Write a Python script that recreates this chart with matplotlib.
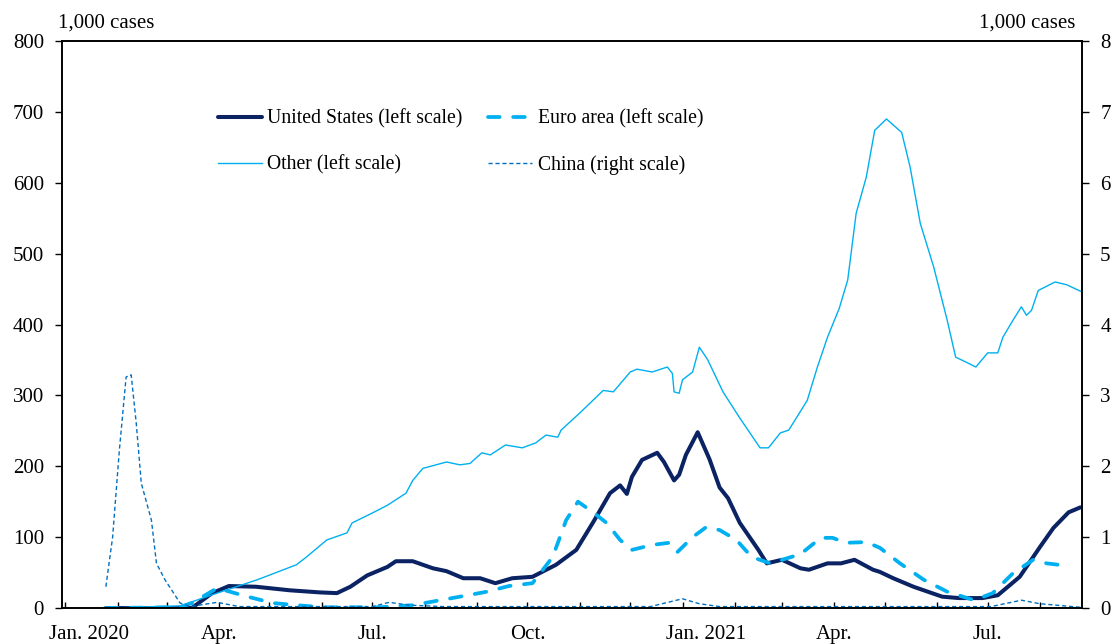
import numpy as np
import pandas as pd
import matplotlib
matplotlib.use("Agg")
import matplotlib.pyplot as plt
import matplotlib.dates as mdates

plt.rcParams['font.family'] = ['Liberation Serif', 'DejaVu Serif']

# New COVID-19 cases, 1,000 cases (7-day average)
us_dates = ['2020-01-25', '2020-03-16', '2020-03-28', '2020-04-07', '2020-04-23', '2020-05-13',
            '2020-05-31', '2020-06-10', '2020-06-18', '2020-06-28', '2020-07-10', '2020-07-15',
            '2020-07-25', '2020-08-06', '2020-08-14', '2020-08-24', '2020-09-03', '2020-09-12',
            '2020-09-22', '2020-10-04', '2020-10-18', '2020-10-30', '2020-11-09', '2020-11-19',
            '2020-11-25', '2020-11-29', '2020-12-02', '2020-12-08', '2020-12-17', '2020-12-21',
            '2020-12-27', '2020-12-30', '2021-01-03', '2021-01-10', '2021-01-17', '2021-01-23',
            '2021-01-28', '2021-02-04', '2021-02-15', '2021-02-20', '2021-03-01', '2021-03-12',
            '2021-03-17', '2021-03-28', '2021-04-05', '2021-04-13', '2021-04-24', '2021-04-28',
            '2021-05-06', '2021-05-18', '2021-06-04', '2021-06-14', '2021-06-28', '2021-07-07',
            '2021-07-20', '2021-08-01', '2021-08-09', '2021-08-18', '2021-08-25']
us_vals = [0, 0, 21, 31, 30, 25,
           22, 21, 30, 46, 58, 66,
           66, 56, 52, 42, 42, 35,
           42, 44, 61, 82, 121, 162,
           173, 161, 185, 209, 219, 206,
           180, 188, 216, 248, 210, 170,
           155, 120, 82, 63, 68, 56,
           54, 63, 63, 68, 54, 51,
           42, 30, 16, 14, 14, 18,
           44, 86, 113, 135, 142]

euro_dates = ['2020-01-25', '2020-03-09', '2020-03-16', '2020-03-31', '2020-04-18', '2020-05-03',
              '2020-05-17', '2020-06-02', '2020-07-05', '2020-07-25', '2020-08-22', '2020-09-07',
              '2020-09-20', '2020-10-04', '2020-10-16', '2020-10-24', '2020-10-31', '2020-11-09',
              '2020-11-17', '2020-11-25', '2020-12-02', '2020-12-14', '2020-12-24', '2020-12-29',
              '2021-01-07', '2021-01-15', '2021-01-23', '2021-02-02', '2021-02-11', '2021-02-22',
              '2021-03-01', '2021-03-12', '2021-03-24', '2021-03-31', '2021-04-08', '2021-04-20',
              '2021-04-28', '2021-05-10', '2021-05-24', '2021-06-07', '2021-06-23', '2021-07-04',
              '2021-07-16', '2021-07-28', '2021-08-05', '2021-08-19']
euro_vals = [0, 1, 7, 28, 16, 7,
             4, 1, 1, 4, 16, 23,
             31, 35, 72, 124, 150, 135,
             120, 96, 82, 89, 92, 79,
             100, 114, 110, 96, 72, 63,
             68, 76, 99, 99, 92, 93,
             85, 63, 40, 23, 11, 21,
             49, 68, 63, 59]

other_dates = ['2020-01-25', '2020-03-09', '2020-03-31', '2020-04-24', '2020-05-17', '2020-05-23',
               '2020-06-04', '2020-06-16', '2020-06-19', '2020-07-01', '2020-07-10', '2020-07-21',
               '2020-07-25', '2020-07-31', '2020-08-14', '2020-08-22', '2020-08-28', '2020-09-04',
               '2020-09-09', '2020-09-18', '2020-09-28', '2020-10-06', '2020-10-12', '2020-10-19',
               '2020-10-21', '2020-11-01', '2020-11-15', '2020-11-21', '2020-12-01', '2020-12-05',
               '2020-12-14', '2020-12-23', '2020-12-26', '2020-12-27', '2020-12-30', '2021-01-01',
               '2021-01-07', '2021-01-11', '2021-01-16', '2021-01-25', '2021-02-04', '2021-02-16',
               '2021-02-21', '2021-02-28', '2021-03-05', '2021-03-10', '2021-03-16', '2021-03-22',
               '2021-03-28', '2021-04-04', '2021-04-09', '2021-04-14', '2021-04-20', '2021-04-25',
               '2021-05-02', '2021-05-11', '2021-05-16', '2021-05-22', '2021-05-30', '2021-06-07',
               '2021-06-12', '2021-06-19', '2021-06-24', '2021-07-01', '2021-07-07', '2021-07-10',
               '2021-07-16', '2021-07-21', '2021-07-24', '2021-07-27', '2021-07-31', '2021-08-10',
               '2021-08-17', '2021-08-25']
other_vals = [0, 3, 21, 40, 61, 72,
              96, 106, 120, 134, 145, 162,
              180, 197, 206, 202, 204, 219,
              216, 230, 226, 233, 244, 241,
              251, 275, 307, 305, 333, 337,
              333, 340, 331, 305, 303, 322,
              333, 368, 350, 305, 268, 226,
              226, 247, 251, 270, 293, 340,
              382, 423, 463, 557, 608, 674,
              690, 671, 622, 543, 481, 406,
              354, 346, 340, 360, 360, 382,
              406, 425, 413, 420, 448, 460,
              456, 447]

china_dates = ['2020-01-25', '2020-01-29', '2020-02-02', '2020-02-06', '2020-02-09', '2020-02-12',
               '2020-02-15', '2020-02-21', '2020-02-24', '2020-02-29', '2020-03-09', '2020-03-15',
               '2020-03-31', '2020-04-13', '2020-07-01', '2020-07-11', '2020-07-23', '2020-08-12',
               '2020-12-13', '2021-01-01', '2021-01-11', '2021-01-23', '2021-07-03', '2021-07-21',
               '2021-08-01', '2021-08-25']
china_vals = [0.30, 1.0, 2.23, 3.26, 3.29, 2.61,
              1.76, 1.24, 0.63, 0.40, 0.07, 0.02,
              0.08, 0.02, 0.02, 0.08, 0.04, 0.02,
              0.02, 0.13, 0.06, 0.02, 0.02, 0.11,
              0.06, 0.01]

x_labels = ['Jan. 2020', 'Apr.', 'Jul.', 'Oct.', 'Jan. 2021', 'Apr.', 'Jul.']
x_label_dates = ['2020-01-15', '2020-04-01', '2020-07-01', '2020-10-01',
                 '2021-01-15', '2021-04-01', '2021-07-01']

fig = plt.figure(figsize=(11.12, 6.44), dpi=100)
ax = fig.add_axes([0.0558, 0.0559, 0.9173, 0.8804])
ax2 = ax.twinx()

navy = '#0B2363'
sky = '#00B0F0'
blue = '#0070C0'

l1, = ax.plot(pd.to_datetime(us_dates), us_vals, color=navy, lw=2.9,
              solid_capstyle='round', solid_joinstyle='round',
              label='United States (left scale)')
l2, = ax.plot(pd.to_datetime(euro_dates), euro_vals, color=sky, lw=2.7,
              dashes=(3.1, 3.6), dash_capstyle='round', label='Euro area (left scale)')
l3, = ax.plot(pd.to_datetime(other_dates), other_vals, color=sky, lw=1.0,
              label='Other (left scale)')
l4, = ax2.plot(pd.to_datetime(china_dates), china_vals, color=blue, lw=1.0,
               dashes=(3, 2), label='China (right scale)')

ax.set_xlim(pd.Timestamp('2019-12-30'), pd.Timestamp('2021-08-26'))
ax.set_ylim(0, 800)
ax2.set_ylim(0, 8)
ax.set_yticks(np.arange(0, 801, 100))
ax2.set_yticks(np.arange(0, 9, 1))

ax.xaxis.remove_overlapping_locs = False
ax.xaxis.set_major_locator(mdates.MonthLocator())
ax.xaxis.set_major_formatter(plt.NullFormatter())
ax.set_xticks(pd.to_datetime(x_label_dates), minor=True)
ax.set_xticklabels(x_labels, minor=True)
ax.tick_params(axis='x', which='major', direction='in', length=4, width=1)
ax.tick_params(axis='x', which='minor', length=0, pad=12, labelsize=15)
ax.tick_params(axis='y', direction='out', length=5, width=1, pad=8, labelsize=15)
ax2.tick_params(axis='y', direction='out', length=5, width=1, pad=8, labelsize=15)

for a in (ax, ax2):
    for s in a.spines.values():
        s.set_linewidth(1.2)

fig.text(0.052, 0.958, '1,000 cases', fontsize=15, ha='left', va='baseline')
fig.text(0.967, 0.958, '1,000 cases', fontsize=15, ha='right', va='baseline')

ax.legend(handles=[l1, l3, l2, l4], ncol=2, loc='upper left',
          bbox_to_anchor=(0.153, 0.88), frameon=False, fontsize=14.2,
          handlelength=2.2, handletextpad=0.3, labelspacing=1.35,
          columnspacing=1.3, borderpad=0, borderaxespad=0)

fig.savefig('out.png', dpi=100)
